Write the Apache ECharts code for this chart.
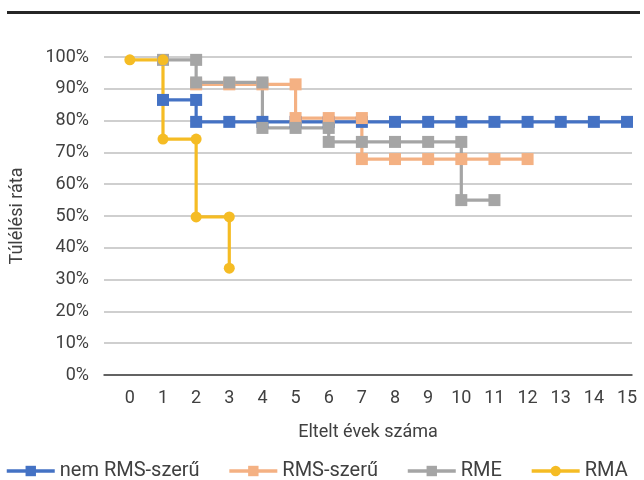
<!DOCTYPE html>
<html lang="hu" style="height: 100%">
<head>
  <meta charset="utf-8">
</head>
<body style="height: 100%; margin: 0; background: #fff">
  <div id="container" style="width: 644px; height: 480px"></div>

  <script type="text/javascript" src="https://cdn.jsdelivr.net/npm/echarts@6/dist/echarts.min.js"></script>

  <script type="text/javascript">
    var dom = document.getElementById('container');
    var myChart = echarts.init(dom, null, { renderer: 'canvas' });

    const seriesNames = ['nem RMS-szerű', 'RMS-szerű', 'RME', 'RMA'];
    const yearTicks = [0, 1, 2, 3, 4, 5, 6, 7, 8, 9, 10, 11, 12, 13, 14, 15];

    // step curves: every drop is two points on the same year
    const nemRmsYears = [1, 2, 2, 3, 4, 5, 6, 7, 8, 9, 10, 11, 12, 13, 14, 15];
    const nemRmsRate  = [86.5, 86.5, 79.6, 79.6, 79.6, 79.6, 79.6, 79.6, 79.6, 79.6, 79.6, 79.6, 79.6, 79.6, 79.6, 79.6];

    const rmsYears = [2, 3, 4, 5, 5, 6, 7, 7, 8, 9, 10, 11, 12];
    const rmsRate  = [91.4, 91.4, 91.4, 91.4, 80.8, 80.8, 80.8, 67.9, 67.9, 67.9, 67.9, 67.9, 67.9];

    const rmeYears = [1, 2, 2, 3, 4, 4, 5, 6, 6, 7, 8, 9, 10, 10, 11];
    const rmeRate  = [99.1, 99.1, 92.0, 92.0, 92.0, 77.7, 77.7, 77.7, 73.3, 73.3, 73.3, 73.3, 73.3, 55.0, 55.0];

    const rmaYears = [0, 1, 1, 2, 2, 3, 3];
    const rmaRate  = [99.1, 99.1, 74.2, 74.2, 49.7, 49.7, 33.6];

    function pairs(xs, ys) {
      return xs.map(function (x, i) { return [x, ys[i]]; });
    }

    const colors = ['#4472C4', '#F4B183', '#A5A5A5', '#F5BC24'];
    const textColor = '#404040';
    const font = 'Roboto';

    function stepSeries(name, data, color, symbol, size) {
      return {
        name: name,
        type: 'line',
        data: data,
        symbol: symbol,
        symbolSize: size,
        showAllSymbol: true,
        itemStyle: { color: color },
        lineStyle: { color: color, width: 3.2 },
        emphasis: { disabled: true }
      };
    }

    var option = {
      animation: false,
      textStyle: { fontFamily: font, color: textColor },
      grid: {
        left: 103,
        right: 12,
        top: 57,
        bottom: 105
      },
      legend: {
        left: 5,
        top: 461,
        padding: 0,
        itemWidth: 48,
        itemHeight: 13,
        itemGap: 28,
        lineStyle: { width: 3.5 },
        textStyle: { fontSize: 20, color: textColor, fontFamily: font },
        data: seriesNames
      },
      xAxis: {
        type: 'value',
        min: -0.78,
        max: 15.15,
        name: 'Eltelt évek száma',
        nameLocation: 'middle',
        nameGap: 48,
        nameTextStyle: { fontSize: 18, color: textColor },
        axisLine: { show: true, lineStyle: { color: '#404040', width: 1.5 } },
        axisTick: { show: false },
        splitLine: { show: false },
        axisLabel: {
          customValues: yearTicks,
          fontSize: 18,
          color: textColor,
          margin: 14
        }
      },
      yAxis: {
        type: 'value',
        min: 0,
        max: 100,
        interval: 10,
        name: 'Túlélési ráta',
        nameLocation: 'middle',
        nameGap: 78,
        nameRotate: 90,
        nameTextStyle: { fontSize: 18, color: textColor },
        axisLine: { show: false },
        axisTick: { show: false },
        splitLine: { lineStyle: { color: '#BFBFBF', width: 1.5 } },
        axisLabel: {
          formatter: '{value}%',
          fontSize: 18,
          color: textColor,
          margin: 15
        }
      },
      graphic: {
        elements: [
          {
            type: 'rect',
            left: 7,
            top: 11,
            shape: { width: 633, height: 3 },
            style: { fill: '#262626' }
          }
        ]
      },
      series: [
        stepSeries(seriesNames[0], pairs(nemRmsYears, nemRmsRate), colors[0], 'rect', 12),
        stepSeries(seriesNames[1], pairs(rmsYears, rmsRate), colors[1], 'rect', 12),
        stepSeries(seriesNames[2], pairs(rmeYears, rmeRate), colors[2], 'rect', 12),
        stepSeries(seriesNames[3], pairs(rmaYears, rmaRate), colors[3], 'circle', 11)
      ]
    };

    myChart.setOption(option);
    window.addEventListener('resize', myChart.resize);
  </script>
</body>
</html>
